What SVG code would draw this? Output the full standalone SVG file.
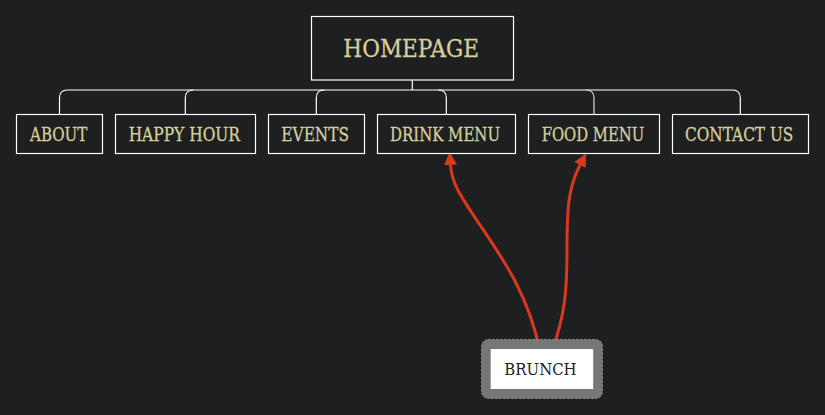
<svg xmlns="http://www.w3.org/2000/svg" width="825" height="415" viewBox="0 0 825 415">
  <defs>
    <marker id="arrow" markerUnits="userSpaceOnUse" markerWidth="14" markerHeight="14" refX="0" refY="6.5" orient="auto" viewBox="0 0 14 13">
      <path d="M0,0 L13,6.5 L0,13 z" fill="#d9391c"/>
    </marker>
    <style>
      .box { fill: #1e1f21; stroke: #ffffff; stroke-width: 1.2; }
      .lbl { font-family: "DejaVu Serif", "Liberation Serif", serif; fill: #d6cf9c; stroke: #d6cf9c; stroke-width: 0.3; text-anchor: middle; }
      .tree { fill: none; stroke: #ffffff; stroke-width: 1.2; }
      .link { fill: none; stroke: #d9391c; stroke-width: 3; stroke-linecap: round; }
    </style>
  </defs>
  <rect x="0" y="0" width="825" height="415" fill="#1e1f21"/>

  <g id="connectors">
    <path class="tree" d="M412.3,80 V90"/>
    <path class="tree" d="M59.5,114 V98 Q59.5,90 67.5,90 H732.3 Q740.3,90 740.3,98 V114"/>
    <path class="tree" d="M185.3,114 V98 Q185.3,90 193.3,90"/>
    <path class="tree" d="M316.3,114 V98 Q316.3,90 324.3,90"/>
    <path class="tree" d="M438.3,90 Q446.3,90 446.3,98 V114"/>
    <path class="tree" d="M586,90 Q594,90 594,98 V114" style="stroke:#d8d8d8"/>
    <path class="link" d="M539.5,349 C528,295 505,262 480,225 C462,198 452,185 450.5,165" marker-end="url(#arrow)"/>
    <path class="link" d="M552.5,349 C565,315 567,290 567,250 C567,210 568,188 580,165" marker-end="url(#arrow)"/>
  </g>

  <g id="homepage">
    <rect class="box" x="311.5" y="16.5" width="202" height="63.5"/>
    <text class="lbl" x="411.2" y="57.3" font-size="24" textLength="135.7" lengthAdjust="spacingAndGlyphs">HOMEPAGE</text>
  </g>
  <g id="about">
    <rect class="box" x="16.5" y="114.5" width="86" height="39"/>
    <text class="lbl" x="58.7" y="141" font-size="18" textLength="57.3" lengthAdjust="spacingAndGlyphs">ABOUT</text>
  </g>
  <g id="happy-hour">
    <rect class="box" x="115.5" y="114.5" width="140" height="39"/>
    <text class="lbl" x="184.3" y="141" font-size="18" textLength="111.3" lengthAdjust="spacingAndGlyphs">HAPPY HOUR</text>
  </g>
  <g id="events">
    <rect class="box" x="268.5" y="114.5" width="96" height="39"/>
    <text class="lbl" x="315.2" y="141" font-size="18" textLength="67.7" lengthAdjust="spacingAndGlyphs">EVENTS</text>
  </g>
  <g id="drink-menu">
    <rect class="box" x="377.5" y="114.5" width="138" height="39"/>
    <text class="lbl" x="445" y="141" font-size="18" textLength="110" lengthAdjust="spacingAndGlyphs">DRINK MENU</text>
  </g>
  <g id="food-menu">
    <rect class="box" x="528.5" y="114.5" width="131" height="39"/>
    <text class="lbl" x="593" y="141" font-size="18" textLength="102.7" lengthAdjust="spacingAndGlyphs">FOOD MENU</text>
  </g>
  <g id="contact-us">
    <rect class="box" x="672.5" y="114.5" width="136" height="39"/>
    <text class="lbl" x="739.2" y="141" font-size="18" textLength="108.3" lengthAdjust="spacingAndGlyphs">CONTACT US</text>
  </g>
  <g id="brunch">
    <rect x="481.5" y="339.5" width="121" height="59" rx="7" ry="7" fill="#777777" stroke="#9a9a9a" stroke-width="1" stroke-dasharray="2,2"/>
    <rect x="490.7" y="349" width="102.5" height="40" fill="#ffffff"/>
    <text x="540.5" y="375" font-family="DejaVu Serif, Liberation Serif, serif" font-size="17" fill="#222222" text-anchor="middle" textLength="72.3" lengthAdjust="spacingAndGlyphs">BRUNCH</text>
  </g>
</svg>
